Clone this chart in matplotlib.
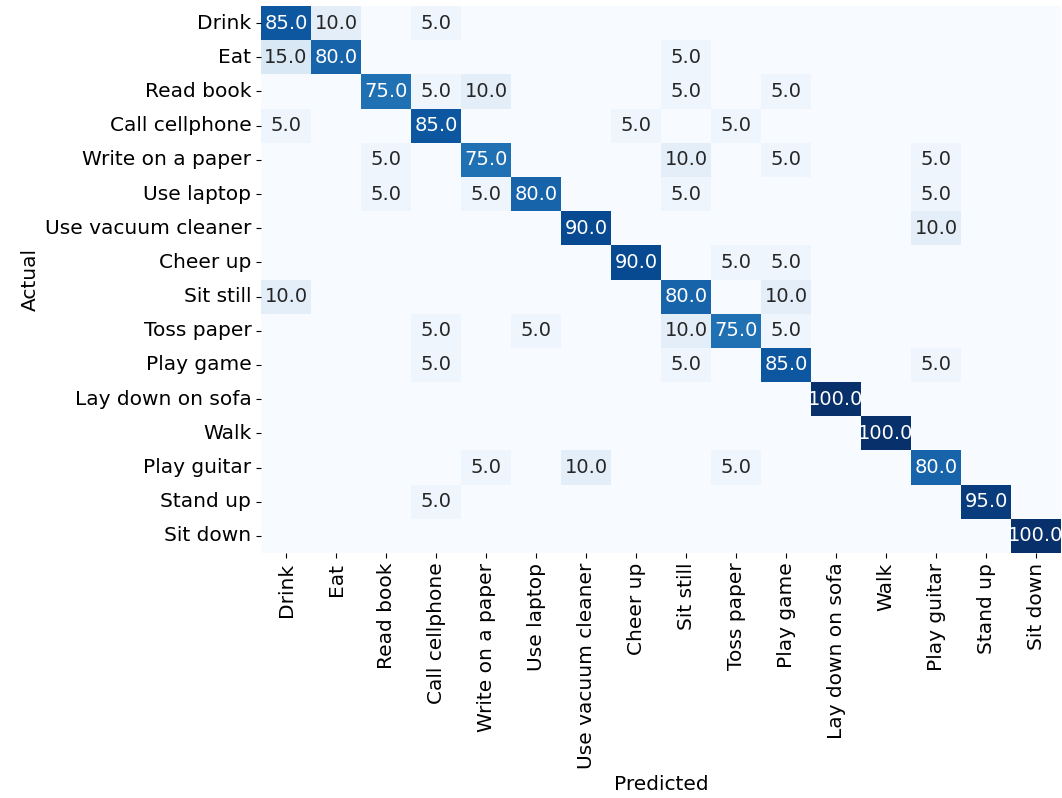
import matplotlib
matplotlib.use("Agg")
import matplotlib.pyplot as plt
import numpy as np
import seaborn as sns

labels = ["Drink", "Eat", "Read book", "Call cellphone", "Write on a paper",
          "Use laptop", "Use vacuum cleaner", "Cheer up", "Sit still",
          "Toss paper", "Play game", "Lay down on sofa", "Walk",
          "Play guitar", "Stand up", "Sit down"]

# confusion matrix in percent, rows = actual, cols = predicted
row_drink      = [85, 10, 0, 5, 0, 0, 0, 0, 0, 0, 0, 0, 0, 0, 0, 0]
row_eat        = [15, 80, 0, 0, 0, 0, 0, 0, 5, 0, 0, 0, 0, 0, 0, 0]
row_read_book  = [0, 0, 75, 5, 10, 0, 0, 0, 5, 0, 5, 0, 0, 0, 0, 0]
row_call       = [5, 0, 0, 85, 0, 0, 0, 5, 0, 5, 0, 0, 0, 0, 0, 0]
row_write      = [0, 0, 5, 0, 75, 0, 0, 0, 10, 0, 5, 0, 0, 5, 0, 0]
row_laptop     = [0, 0, 5, 0, 5, 80, 0, 0, 5, 0, 0, 0, 0, 5, 0, 0]
row_vacuum     = [0, 0, 0, 0, 0, 0, 90, 0, 0, 0, 0, 0, 0, 10, 0, 0]
row_cheer      = [0, 0, 0, 0, 0, 0, 0, 90, 0, 5, 5, 0, 0, 0, 0, 0]
row_sit_still  = [10, 0, 0, 0, 0, 0, 0, 0, 80, 0, 10, 0, 0, 0, 0, 0]
row_toss       = [0, 0, 0, 5, 0, 5, 0, 0, 10, 75, 5, 0, 0, 0, 0, 0]
row_game       = [0, 0, 0, 5, 0, 0, 0, 0, 5, 0, 85, 0, 0, 5, 0, 0]
row_sofa       = [0, 0, 0, 0, 0, 0, 0, 0, 0, 0, 0, 100, 0, 0, 0, 0]
row_walk       = [0, 0, 0, 0, 0, 0, 0, 0, 0, 0, 0, 0, 100, 0, 0, 0]
row_guitar     = [0, 0, 0, 0, 5, 0, 10, 0, 0, 5, 0, 0, 0, 80, 0, 0]
row_stand_up   = [0, 0, 0, 5, 0, 0, 0, 0, 0, 0, 0, 0, 0, 0, 95, 0]
row_sit_down   = [0, 0, 0, 0, 0, 0, 0, 0, 0, 0, 0, 0, 0, 0, 0, 100]

cm = np.array([row_drink, row_eat, row_read_book, row_call, row_write,
               row_laptop, row_vacuum, row_cheer, row_sit_still, row_toss,
               row_game, row_sofa, row_walk, row_guitar, row_stand_up,
               row_sit_down], dtype=float)

# hide the zero cells in the annotations
annot = np.where(cm > 0, np.char.mod("%.1f", cm), "")

fs = 14.5

fig = plt.figure(figsize=(10.62, 7.98), dpi=100)
ax = fig.add_axes([261 / 1062, 1 - 553 / 798, 800 / 1062, 547 / 798])

sns.heatmap(cm, annot=annot, fmt="", cmap="Blues", cbar=False,
            xticklabels=labels, yticklabels=labels, ax=ax,
            annot_kws={"fontsize": 14})

ax.set_xlabel("Predicted", fontsize=fs)
ax.set_ylabel("Actual", fontsize=fs)
ax.tick_params(axis="both", labelsize=fs)
plt.setp(ax.get_xticklabels(), rotation=90)
plt.setp(ax.get_yticklabels(), rotation=0)

fig.savefig("out.png", dpi=100)
